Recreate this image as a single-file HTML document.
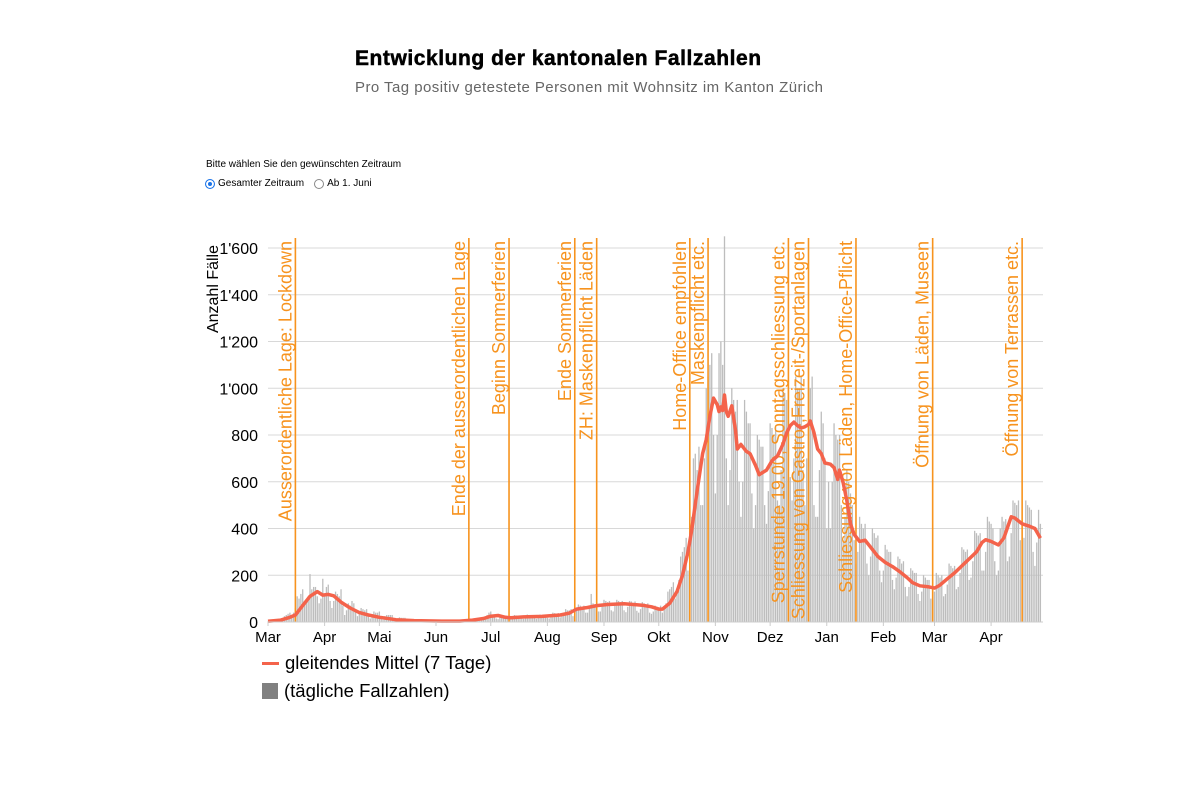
<!DOCTYPE html>
<html><head><meta charset="utf-8">
<style>
body{margin:0;width:1200px;height:800px;background:#fff;font-family:"Liberation Sans",sans-serif;overflow:hidden;position:relative}
.t{position:absolute;white-space:nowrap}
</style></head><body>
<div class="t" style="left:355px;top:47px;font-size:21px;font-weight:bold;color:#000;letter-spacing:0.55px;-webkit-text-stroke:0.5px #000">Entwicklung der kantonalen Fallzahlen</div>
<div class="t" style="left:355px;top:79px;font-size:15px;color:#666;letter-spacing:0.45px">Pro Tag positiv getestete Personen mit Wohnsitz im Kanton Zürich</div>
<div class="t" style="left:206px;top:159px;font-size:10px;color:#000">Bitte wählen Sie den gewünschten Zeitraum</div>
<div class="t" style="left:205px;top:178px;font-size:10px;color:#000;display:flex;align-items:center">
 <span style="display:inline-block;width:8px;height:8px;border-radius:50%;background:#1a73e8;border:1px solid #1a73e8;box-shadow:inset 0 0 0 2px #fff;margin-right:3px"></span><span>Gesamter Zeitraum</span>
 <span style="display:inline-block;width:8px;height:8px;border-radius:50%;border:1px solid #888;margin:0 3px 0 10px"></span><span>Ab 1. Juni</span>
</div>
<svg id="chart" width="1200" height="800" style="position:absolute;left:0;top:0" xmlns="http://www.w3.org/2000/svg"></svg>
<div class="t" style="left:262px;top:652px;font-size:18.5px;color:#000;display:flex;align-items:center"><span style="display:inline-block;width:17px;height:3px;background:#f4634b;margin-right:6px"></span>gleitendes Mittel (7 Tage)</div>
<div class="t" style="left:262px;top:680px;font-size:18.5px;color:#000;display:flex;align-items:center"><span style="display:inline-block;width:16px;height:16px;background:#808080;margin-right:6px"></span>(tägliche Fallzahlen)</div>
<script>
const daily = [
2,3,5,6,8,8,5, 10,15,25,30,35,40,25, 40,60,110,100,120,140,90, 90,110,205,140,150,150,110,
80,100,185,120,150,160,90, 60,90,130,120,110,140,70, 30,50,80,70,90,80,50, 25,35,60,55,50,55,35,
15,30,45,40,40,45,25, 10,25,30,30,30,30,15, 8,12,20,18,18,18,10, 5,8,12,12,12,12,6,
3,6,9,8,8,9,4, 2,4,6,6,6,6,3, 2,4,6,6,6,6,3, 2,4,6,6,6,6,3,
5,10,15,14,16,15,10, 15,30,40,45,30,30,15, 12,20,30,28,25,25,15, 12,20,30,28,25,25,15,
14,22,32,30,28,30,18, 14,22,32,30,28,30,18, 15,25,40,38,35,38,20, 25,35,55,50,50,55,25,
35,50,75,70,65,70,40, 40,60,120,80,75,85,45, 45,70,95,90,85,90,50, 45,70,95,90,85,90,50,
42,65,90,88,82,88,48, 40,55,85,80,75,80,40, 35,45,70,65,60,70,40, 55,80,130,140,150,170,100,
120,180,280,300,320,360,220, 300,450,700,720,650,750,500, 500,700,1000,1050,1100,1150,800,
550,800,1150,1200,1100,1650,700, 500,650,1000,950,900,950,600, 450,600,950,900,850,850,550,
400,500,800,780,750,750,500, 420,560,850,830,800,840,520, 500,650,1000,980,950,1000,620,
520,700,1050,1000,1000,1050,650, 500,700,1200,1000,1050,500,450, 450,650,900,850,700,400,600,
400,600,850,800,780,800,500, 350,450,650,600,550,500,350, 250,300,450,420,400,420,250,
200,280,400,380,360,370,220, 170,220,330,310,300,300,180, 140,190,280,270,250,260,150,
110,150,230,220,210,210,120, 90,130,200,190,180,180,100, 95,130,210,200,190,200,110,
120,160,250,240,230,240,140, 150,210,320,310,300,310,180, 190,260,390,380,370,380,220,
220,300,450,430,420,400,260, 200,220,400,450,430,440,260, 280,380,520,510,500,520,350,
260,360,520,500,490,480,300, 240,340,480,420];
const meanDays = [0,7,12,15,19,23,27,30,33,36,40,45,50,55,61,70,80,95,105,112,118,122,126,130,133,140,150,160,165,169,175,180,186,195,205,210,214,216,220,224,227,230,232,235,238,240,242,244,246,247,248,249,250,251,252,254,256,257,259,262,264,267,269,271,273,276,279,282,284,286,288,290,292,294,296,297,299,301,303,305,308,310,312,313,315,317,319,321,324,327,330,334,338,342,346,350,353,357,362,365,368,372,376,380,384,388,391,393,396,400,403,407,409,413,417,420,423];
const meanVals = [3,8,20,30,70,110,130,115,118,112,85,60,40,30,20,10,6,4,4,8,15,25,28,20,18,22,24,30,38,55,62,70,75,78,72,65,55,55,80,130,200,300,390,560,720,780,880,958,930,900,920,905,971,900,880,925,820,740,760,730,720,670,630,640,650,690,710,760,808,840,855,840,830,835,845,860,810,740,720,680,675,660,610,650,595,520,420,375,345,350,320,280,255,237,215,190,168,155,150,145,158,185,210,240,270,300,340,352,345,330,360,450,445,420,410,400,359];
const yTicks = [0,200,400,600,800,1000,1200,1400,1600];
const yTickLabels = ["0","200","400","600","800","1'000","1'200","1'400","1'600"];
const monthDays = [0,31,61,92,122,153,184,214,245,275,306,337,365,396];
const monthLabels = ["Mar","Apr","Mai","Jun","Jul","Aug","Sep","Okt","Nov","Dez","Jan","Feb","Mar","Apr"];
const eventDays = [15,110,132,168,180,231,241,285,296,322,364,413];
const eventLabels = ["Ausserordentliche Lage: Lockdown","Ende der ausserordentlichen Lage","Beginn Sommerferien","Ende Sommerferien","ZH: Maskenpflicht Läden","Home-Office empfohlen","Maskenpflicht etc.","Sperrstunde 19.00, Sonntagsschliessung etc.","Schliessung von Gastro-,Freizeit-/Sportanlagen","Schliessung von Läden, Home-Office-Pflicht","Öffnung von Läden, Museen","Öffnung von Terrassen etc."];

const X0=268, DX=1.826, Y0=622, YK=374/1600, XEND=1043;
const x = d => X0 + d*DX;
const y = v => Y0 - v*YK;
const svg = document.getElementById('chart');
const NS='http://www.w3.org/2000/svg';
function mk(tag, attrs){const e=document.createElementNS(NS,tag);for(const k in attrs)e.setAttribute(k,attrs[k]);svg.appendChild(e);return e;}

yTicks.forEach((v,i)=>{
  const g=mk('line',{x1:X0,x2:XEND,y1:y(v),y2:y(v),stroke:'#d8d8d8','stroke-width':1});
  
  
  const t=mk('text',{x:258,y:y(v)+6,'text-anchor':'end','font-size':16,fill:'#000','font-family':'Liberation Sans, sans-serif'});
  t.textContent=yTickLabels[i];
  
  
});
const yt=mk('text',{transform:'translate(218,245) rotate(-90)','text-anchor':'end','font-size':16,fill:'#000','font-family':'Liberation Sans, sans-serif'});
yt.textContent='Anzahl Fälle';



daily.forEach((v,d)=>{
  const b=mk('rect',{x:x(d)-0.65,y:y(v),width:1.3,height:v*YK,fill:'#bdbdbd'});
  
  
});

eventDays.forEach((d,i)=>{
  const l=mk('line',{x1:x(d),x2:x(d),y1:238,y2:Y0,stroke:'#f7931e','stroke-width':1.6});
  
  
  const t=mk('text',{transform:`translate(${x(d)-4},241) rotate(-90)`,'text-anchor':'end','font-size':18,fill:'#f7931e','font-family':'Liberation Sans, sans-serif'});
  t.textContent=eventLabels[i];
  
  
});

const pts=meanDays.map((d,i)=>x(d).toFixed(1)+','+y(meanVals[i]).toFixed(1)).join(' ');
const ml=mk('polyline',{points:pts,fill:'none',stroke:'#f4634b','stroke-width':3.5,'stroke-linejoin':'round'});



const ax=mk('line',{x1:X0,x2:XEND,y1:Y0,y2:Y0,stroke:'#ccc','stroke-width':1});


monthDays.forEach((d,i)=>{
  const tk=mk('line',{x1:x(d),x2:x(d),y1:Y0,y2:Y0+4,stroke:'#ccc'});
  
  
  const t=mk('text',{x:x(d),y:642,'text-anchor':'middle','font-size':15,fill:'#000','font-family':'Liberation Sans, sans-serif'});
  t.textContent=monthLabels[i];
  
  
});
</script>
</body></html>
